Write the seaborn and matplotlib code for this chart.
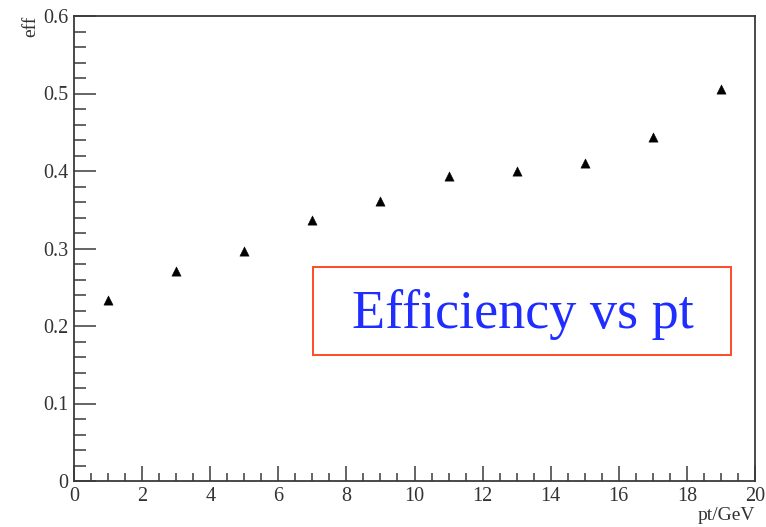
import matplotlib
matplotlib.use("Agg")
import matplotlib.pyplot as plt
from matplotlib.ticker import MultipleLocator, FormatStrFormatter
from matplotlib.patches import Rectangle
import seaborn as sns
import pandas as pd

# pt bin centres (GeV) and measured efficiency
pt = [1, 3, 5, 7, 9, 11, 13, 15, 17, 19]
eff = [0.234, 0.271, 0.297, 0.337, 0.361, 0.394, 0.400, 0.410, 0.444, 0.506]
x_ticks = [0, 2, 4, 6, 8, 10, 12, 14, 16, 18, 20]
y_ticks = [0, 0.1, 0.2, 0.3, 0.4, 0.5, 0.6]

df = pd.DataFrame({"pt": pt, "eff": eff})

sns.set_style("ticks")
plt.rcParams["font.family"] = ["Liberation Serif", "DejaVu Serif"]

fig = plt.figure(figsize=(7.66, 5.27), dpi=100)
ax = fig.add_axes([74 / 766, 1 - 481 / 527, 681 / 766, 465 / 527])

sns.scatterplot(data=df, x="pt", y="eff", marker="^", s=45, color="black",
                edgecolor="black", linewidth=0.3, ax=ax, legend=False)

ax.set_xlim(0, 20)
ax.set_ylim(0, 0.6)
ax.set_xticks(x_ticks)
ax.set_yticks(y_ticks)
ax.xaxis.set_minor_locator(MultipleLocator(0.5))
ax.yaxis.set_minor_locator(MultipleLocator(0.02))
ax.xaxis.set_major_formatter(FormatStrFormatter("%g"))
ax.yaxis.set_major_formatter(FormatStrFormatter("%g"))

axis_col = "#3a3a3a"
for side in ["left", "bottom", "top", "right"]:
    ax.spines[side].set_visible(True)
    ax.spines[side].set_color(axis_col)
    ax.spines[side].set_linewidth(1.3)

ax.tick_params(axis="x", which="major", direction="in", length=11, width=1.1,
               color=axis_col, labelsize=14.5, labelcolor="#333333", pad=4)
ax.tick_params(axis="x", which="minor", direction="in", length=5.5, width=1.1,
               color=axis_col)
ax.tick_params(axis="y", which="major", direction="in", length=16, width=1.1,
               color=axis_col, labelsize=14.5, labelcolor="#333333", pad=4)
ax.tick_params(axis="y", which="minor", direction="in", length=8.5, width=1.1,
               color=axis_col)
ax.tick_params(top=False, right=False, which="both")

ax.set_xlabel("pt/GeV", fontsize=14, color="#333333", loc="right", labelpad=1)
ax.set_ylabel("eff", fontsize=14, color="#333333", loc="top", labelpad=3)

# title box
ax.add_patch(Rectangle((7.02, 0.1626), 19.3 - 7.02, 0.276 - 0.1626,
                       transform=ax.transData, fill=False,
                       edgecolor="#ff4a2a", linewidth=1.4, zorder=3))
ax.text(13.19, 0.197, "Efficiency vs pt", color="#1f2dff", fontsize=39,
        ha="center", va="baseline", zorder=4)

fig.savefig("out.png", dpi=100)
